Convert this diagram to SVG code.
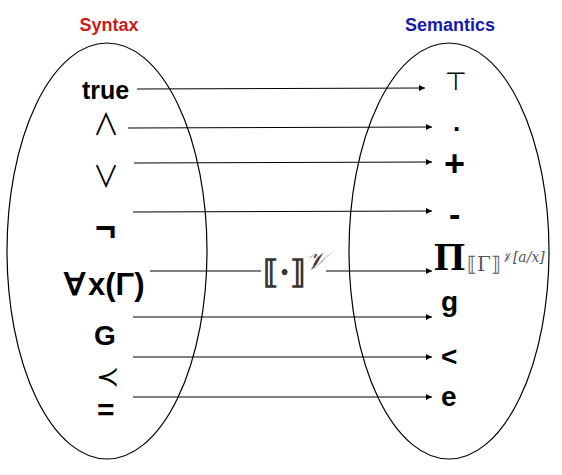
<svg xmlns="http://www.w3.org/2000/svg" width="562" height="475" viewBox="0 0 562 475">
<defs>
<marker id="ah" viewBox="0 0 10 10" refX="10" refY="5" markerWidth="8" markerHeight="6" markerUnits="userSpaceOnUse" orient="auto">
<path d="M0,0 L10,5 L0,10 z" fill="#000"/>
</marker>
</defs>
<style>
.ell{fill:none;stroke:#000;stroke-width:1.2}
.ln{fill:none;stroke:#000;stroke-width:1}
.arr{fill:none;stroke:#000;stroke-width:1;marker-end:url(#ah)}
.b{font-family:"Liberation Sans",Arial,sans-serif;font-weight:bold;fill:#000}
.m{font-family:"DejaVu Sans",sans-serif;fill:#000}
.cj{font-family:"Noto Sans CJK SC","DejaVu Sans",sans-serif;fill:#000;font-size:30px}
.hd{font-family:"Liberation Sans",Arial,sans-serif;font-weight:bold;font-size:18px;text-anchor:middle}
.gr{font-family:"DejaVu Serif",serif;fill:#555}
</style>
<g id="titles">
<text class="hd" x="109" y="31" fill="#cc1a1a">Syntax</text>
<text class="hd" x="450" y="31" fill="#1a1aaa">Semantics</text>
</g>
<g id="syntax-set">
<ellipse class="ell" cx="107" cy="251" rx="100" ry="208"/>
<text id="s-true" class="b" x="82" y="99" font-size="25">true</text>
<text id="s-and" class="cj" x="93" y="135" textLength="26" lengthAdjust="spacingAndGlyphs">∧</text>
<text id="s-or" class="cj" x="93" y="187" textLength="26" lengthAdjust="spacingAndGlyphs">∨</text>
<text id="s-not" class="b" x="95" y="240" font-size="36">¬</text>
<text id="s-forall" class="b" x="64" y="295" font-size="31">∀<tspan dx="3">x(Γ)</tspan></text>
<text id="s-G" class="b" x="94" y="345" font-size="28">G</text>
<text id="s-prec" class="m" x="96" y="386" font-size="28">≺</text>
<text id="s-eq" class="b" x="97" y="420" font-size="30">=</text>
</g>
<g id="semantics-set">
<ellipse class="ell" cx="449" cy="251" rx="100" ry="208"/>
<text id="t-top" class="m" x="445" y="90" font-size="25">⊤</text>
<text id="t-dot" class="b" x="453" y="131" font-size="26">.</text>
<text id="t-plus" class="b" x="444" y="176" font-size="36">+</text>
<text id="t-minus" class="b" x="449" y="226" font-size="34">-</text>
<text id="t-pi" x="434" y="270" font-family="Liberation Serif,serif" font-weight="bold" font-size="40">Π</text>
<text id="t-sub" class="gr" x="467" y="271" font-size="20">⟦Γ⟧<tspan dy="-9" font-size="14" font-style="italic">𝒱[a/x]</tspan></text>
<text id="t-g" class="b" x="441" y="311" font-size="28">g</text>
<text id="t-lt" class="b" x="441" y="366" font-size="28">&lt;</text>
<text id="t-e" class="b" x="441" y="406" font-size="28">e</text>
</g>
<g id="mapping-label">
<text x="263" y="283" font-family="DejaVu Serif,serif" font-weight="bold" font-size="32" fill="#3a3530">⟦·⟧<tspan dy="-14" font-size="24" font-weight="normal" font-style="italic">𝒱</tspan></text>
</g>
<g id="connectors">
<line class="arr" x1="137" y1="89" x2="425" y2="88"/>
<line class="arr" x1="128" y1="128" x2="432" y2="127"/>
<line class="arr" x1="134" y1="163" x2="432" y2="162"/>
<line class="arr" x1="133" y1="212" x2="432" y2="211"/>
<line class="ln" x1="150" y1="271" x2="261" y2="271"/>
<line class="arr" x1="326" y1="271" x2="432" y2="271"/>
<line class="arr" x1="133" y1="317" x2="432" y2="317"/>
<line class="arr" x1="133" y1="357" x2="432" y2="357"/>
<line class="arr" x1="133" y1="397" x2="432" y2="397"/>
</g>
</svg>
